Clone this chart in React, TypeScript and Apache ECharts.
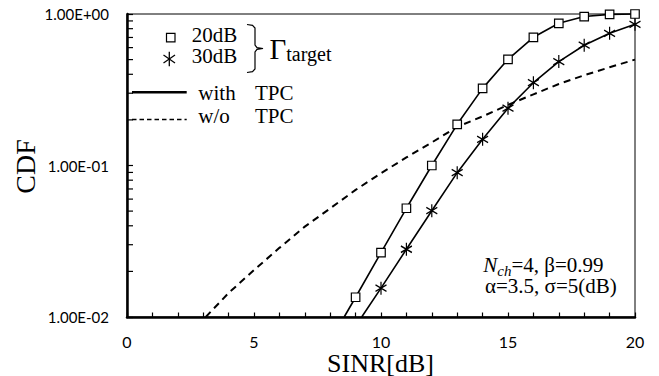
import React, { useEffect, useRef } from "react";
import * as echarts from "echarts";

// x-axis tick labels and y-axis tick labels
const xTickLabels = ["0", "5", "10", "15", "20"];
const yTickLabels = ["1.00E-02", "1.00E-01", "1.00E+00"];
const yMinorTicks = [0.02, 0.03, 0.04, 0.05, 0.06, 0.07, 0.08, 0.09, 0.2, 0.3, 0.4, 0.5, 0.6, 0.7, 0.8, 0.9];

// Γtarget = 20 dB, with TPC (squares)
const sinr20dB = [9, 10, 11, 12, 13, 14, 15, 16, 17, 18, 19, 20];
const cdf20dB = [0.0135, 0.0266, 0.0522, 0.1, 0.187, 0.323, 0.502, 0.702, 0.868, 0.962, 0.995, 1.0];
const entry20dB = [8.55, 0.01]; // where the curve leaves the bottom axis

// Γtarget = 30 dB, with TPC (stars)
const sinr30dB = [10, 11, 12, 13, 14, 15, 16, 17, 18, 19, 20];
const cdf30dB = [0.0155, 0.028, 0.0503, 0.0897, 0.149, 0.239, 0.352, 0.485, 0.622, 0.746, 0.855];
const entry30dB = [9.24, 0.01];

// w/o TPC (dashed)
const sinrNoTPC = [3.1, 4, 5, 6, 7, 8, 9, 10, 11, 12, 13, 14, 15, 16, 17, 18, 19, 20];
const cdfNoTPC = [0.01, 0.0144, 0.0204, 0.0286, 0.0395, 0.0521, 0.069, 0.089, 0.113, 0.142, 0.18, 0.211, 0.251, 0.295, 0.345, 0.394, 0.445, 0.5];

const SERIF = "Liberation Serif";
const SANS = "Lato";

const starPath = "path://M6,0 L6,14 M0,3.5 L12,10.5 M0,10.5 L12,3.5";

function txt(text: string, x: number, y: number, size: number, extra: any = {}) {
  return {
    type: "text",
    silent: true,
    style: {
      text,
      x,
      y,
      fontSize: size,
      fontFamily: SERIF,
      fill: "#000",
      textAlign: "left",
      textVerticalAlign: "middle",
      ...extra,
    },
  };
}

export default function App() {
  const ref = useRef<HTMLDivElement>(null);
  useEffect(() => {
    if (!ref.current) return;
    const chart = echarts.init(ref.current, undefined, { renderer: "svg" });
    const option: any = {
      animation: false,
      grid: {
        left: 127,
        right: 24,
        top: 14,
        bottom: 59,
        show: true,
        borderColor: "#000",
        borderWidth: 1,
        backgroundColor: "transparent",
      },
      xAxis: {
        type: "value",
        min: 0,
        max: 20,
        interval: 1,
        axisLine: { show: true, lineStyle: { color: "#000", width: 2.5 } },
        axisTick: { show: true, inside: true, length: 4.5, lineStyle: { color: "#000", width: 1.2 } },
        axisLabel: {
          formatter: (v: number) => (v % 5 === 0 ? xTickLabels[v / 5] : ""),
          margin: 16,
          color: "#000",
          fontFamily: SANS,
          fontSize: 16,
        },
        splitLine: { show: false },
      },
      yAxis: {
        type: "log",
        logBase: 10,
        min: 0.01,
        max: 1,
        axisLine: { show: true, lineStyle: { color: "#000", width: 2.5 } },
        axisTick: { show: true, inside: true, length: 6, lineStyle: { color: "#000", width: 1.2 } },
        axisLabel: {
          formatter: (v: number) => yTickLabels[Math.round(Math.log10(v)) + 2] ?? "",
          margin: 18,
          color: "#000",
          fontFamily: SANS,
          fontSize: 15,
        },
        splitLine: { show: false },
      },
      series: [
        {
          type: "custom",
          silent: true,
          clip: false,
          data: yMinorTicks.map((v) => [0, v]),
          renderItem: (params: any, api: any) => {
            const p = api.coord([api.value(0), api.value(1)]);
            return {
              type: "line",
              shape: { x1: p[0], y1: p[1], x2: p[0] + 6, y2: p[1] },
              style: { stroke: "#000", lineWidth: 1.2 },
            };
          },
        },
        {
          type: "line",
          name: "w/o TPC",
          symbol: "none",
          clip: false,
          lineStyle: { color: "#000", width: 2, type: [7, 5] },
          data: sinrNoTPC.map((x, i) => [x, cdfNoTPC[i]]),
          z: 2,
        },
        {
          type: "line",
          name: "30dB",
          symbol: starPath,
          symbolSize: [11, 13],
          clip: false,
          lineStyle: { color: "#000", width: 1.6 },
          itemStyle: { color: "#000", borderColor: "#000", borderWidth: 1.3 },
          data: [{ value: entry30dB, symbol: "none" }, ...sinr30dB.map((x, i) => [x, cdf30dB[i]])],
          z: 3,
        },
        {
          type: "line",
          name: "20dB",
          symbol: "rect",
          symbolSize: 8.5,
          clip: false,
          lineStyle: { color: "#000", width: 1.6 },
          itemStyle: { color: "#fff", borderColor: "#000", borderWidth: 1.2 },
          data: [{ value: entry20dB, symbol: "none" }, ...sinr20dB.map((x, i) => [x, cdf20dB[i]])],
          z: 4,
        },
      ],
      graphic: [
        // legend: markers
        {
          type: "rect",
          silent: true,
          shape: { x: 166.5, y: 33.3, width: 8.5, height: 8.5 },
          style: { fill: "#fff", stroke: "#000", lineWidth: 1.2 },
        },
        { type: "line", silent: true, shape: { x1: 169.3, y1: 51.7, x2: 169.3, y2: 66.3 }, style: { stroke: "#000", lineWidth: 1.3 } },
        { type: "line", silent: true, shape: { x1: 163.5, y1: 55, x2: 175, y2: 63 }, style: { stroke: "#000", lineWidth: 1.3 } },
        { type: "line", silent: true, shape: { x1: 163.5, y1: 63, x2: 175, y2: 55 }, style: { stroke: "#000", lineWidth: 1.3 } },
        txt("20dB", 191.7, 34.6, 21),
        txt("30dB", 191.7, 56, 21),
        {
          type: "polyline",
          silent: true,
          shape: {
            points: [
              [247, 24.5], [252.5, 25.3], [255, 28], [255, 45], [257, 47.6], [263, 48.5],
              [257, 49.4], [255, 52], [255, 69], [252.5, 71.7], [247, 72.5],
            ],
          },
          style: { stroke: "#000", lineWidth: 1.2, fill: null },
        },
        {
          type: "text",
          silent: true,
          style: {
            text: "{g|Γ}{s|target}",
            x: 269.5,
            y: 48.5,
            textAlign: "left",
            textVerticalAlign: "middle",
            fill: "#000",
            fontFamily: SERIF,
            rich: {
              g: { fontSize: 29, lineHeight: 29, fontFamily: SERIF, fill: "#000" },
              s: { fontSize: 20, lineHeight: 20, fontFamily: SERIF, fill: "#000", padding: [11.5, 0, 0, 0] },
            },
          },
        },
        { type: "line", silent: true, shape: { x1: 132, y1: 92.3, x2: 186.7, y2: 92.3 }, style: { stroke: "#000", lineWidth: 2.5 } },
        txt("with", 198.3, 92.9, 21),
        txt("TPC", 255, 92.9, 21),
        {
          type: "line",
          silent: true,
          shape: { x1: 132, y1: 119.5, x2: 186.7, y2: 119.5 },
          style: { stroke: "#000", lineWidth: 1.3, lineDash: [4.5, 3] },
        },
        txt("w/o", 198.3, 116.2, 21),
        txt("TPC", 255, 116.2, 21),
        // annotation
        {
          type: "text",
          silent: true,
          style: {
            text: "{n|N}{s|ch}{n2|=4, β=0.99}",
            x: 483.3,
            y: 264.9,
            textAlign: "left",
            textVerticalAlign: "middle",
            fill: "#000",
            fontFamily: SERIF,
            rich: {
              n: { fontSize: 21, lineHeight: 21, fontStyle: "italic", fontFamily: SERIF, fill: "#000" },
              s: { fontSize: 15, lineHeight: 15, fontStyle: "italic", fontFamily: SERIF, fill: "#000", padding: [13, 0, 0, 0] },
              n2: { fontSize: 21, lineHeight: 21, fontFamily: SERIF, fill: "#000" },
            },
          },
        },
        txt("α=3.5, σ=5(dB)", 485, 285.9, 21),
        // axis titles
        {
          type: "text",
          silent: true,
          x: 25.5,
          y: 166.5,
          rotation: Math.PI / 2,
          style: {
            text: "CDF",
            x: 0,
            y: 0,
            fontSize: 28,
            fontFamily: SERIF,
            fill: "#000",
            textAlign: "center",
            textVerticalAlign: "middle",
          },
        },
        txt("SINR[dB]", 380.5, 363, 26, { textAlign: "center" }),
      ],
    };
    chart.setOption(option);
    return () => chart.dispose();
  }, []);
  return (
    <div
      ref={ref}
      style={{ position: "absolute", left: 0, top: 0, width: 659, height: 376, background: "#fff" }}
    />
  );
}
